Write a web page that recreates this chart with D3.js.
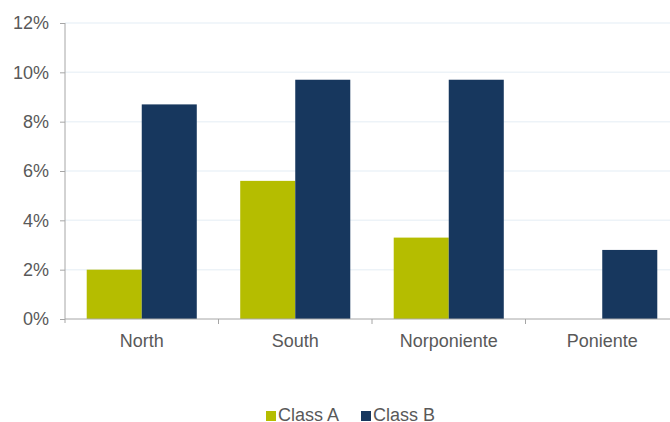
<!DOCTYPE html>
<html>
<head>
<meta charset="utf-8">
<script src="https://cdn.jsdelivr.net/npm/d3@7"></script>
<style>
  html, body { margin: 0; padding: 0; background: #fff; }
  svg { display: block; font-family: "Liberation Sans", Arial, sans-serif; }
</style>
</head>
<body>
<svg id="chart" width="670" height="422"></svg>
<script>
// Regions and the share for each class (percent)
const categories = ["North", "South", "Norponiente", "Poniente"];
const seriesNames = ["Class A", "Class B"];
const classA = [2.0, 5.6, 3.3, 0];
const classB = [8.7, 9.7, 9.7, 2.8];
const yTicks = [0, 2, 4, 6, 8, 10, 12];
const colors = ["#b5bd00", "#17375e"];

const svg = d3.select("#chart");
const textColor = "#595959";
const axisColor = "#a6a6a6";

const plotLeft = 65, plotRight = 679, plotTop = 23, plotBottom = 319;

const x = d3.scaleBand()
  .domain(categories)
  .range([plotLeft, plotRight])
  .paddingInner(0.283)
  .paddingOuter(0.1415);

const xs = d3.scaleBand()
  .domain(seriesNames)
  .range([0, x.bandwidth()]);

const y = d3.scaleLinear().domain([0, 12]).range([plotBottom, plotTop]);

const rows = categories.map((c, i) => ({ cat: c, values: [classA[i], classB[i]] }));

// Horizontal gridlines
svg.append("g")
  .selectAll("line")
  .data(yTicks.filter(t => t > 0))
  .join("line")
  .attr("x1", plotLeft).attr("x2", 670)
  .attr("y1", d => y(d)).attr("y2", d => y(d))
  .attr("stroke", "#edf3f8")
  .attr("stroke-width", 1.5);

// Bars
const groups = svg.append("g")
  .selectAll("g")
  .data(rows)
  .join("g")
  .attr("transform", d => `translate(${x(d.cat)},0)`);

groups.selectAll("rect")
  .data(d => d.values.map((v, k) => ({ key: seriesNames[k], v, k })))
  .join("rect")
  .attr("x", d => xs(d.key))
  .attr("width", xs.bandwidth())
  .attr("y", d => y(d.v))
  .attr("height", d => y(0) - y(d.v))
  .attr("fill", d => colors[d.k]);

// Y axis
const yAxis = d3.axisLeft(y)
  .tickValues(yTicks)
  .tickFormat(d => d + "%")
  .tickSize(5)
  .tickPadding(11);

const gy = svg.append("g")
  .attr("transform", `translate(${plotLeft},0)`)
  .call(yAxis);
gy.select(".domain").attr("stroke", axisColor).attr("d", `M0,${plotTop}V${plotBottom + 4}`);
gy.selectAll(".tick line").attr("stroke", axisColor);
gy.selectAll(".tick text")
  .attr("fill", textColor)
  .attr("font-size", 18)
  .attr("font-family", "'Liberation Sans', Arial, sans-serif");

// X axis baseline, boundary ticks, category labels
const gx = svg.append("g").attr("transform", `translate(0,${plotBottom})`);
gx.append("line")
  .attr("x1", plotLeft).attr("x2", 670)
  .attr("y1", 0).attr("y2", 0)
  .attr("stroke", axisColor);

const gap = (x.step() - x.bandwidth()) / 2;
gx.selectAll(".bound")
  .data(categories.slice(1))
  .join("line")
  .attr("class", "bound")
  .attr("x1", d => x(d) - gap).attr("x2", d => x(d) - gap)
  .attr("y1", 0).attr("y2", 5)
  .attr("stroke", axisColor);

gx.selectAll(".lbl")
  .data(categories)
  .join("text")
  .attr("class", "lbl")
  .attr("x", d => x(d) + x.bandwidth() / 2)
  .attr("y", 28)
  .attr("text-anchor", "middle")
  .attr("fill", textColor)
  .attr("font-size", 18)
  .text(d => d);

// Legend
const legendItems = [
  { name: seriesNames[0], color: colors[0], x: 266 },
  { name: seriesNames[1], color: colors[1], x: 361 }
];
const lg = svg.append("g");
lg.selectAll("rect")
  .data(legendItems)
  .join("rect")
  .attr("x", d => d.x).attr("y", 411)
  .attr("width", 10).attr("height", 10)
  .attr("fill", d => d.color);
lg.selectAll("text")
  .data(legendItems)
  .join("text")
  .attr("x", d => d.x + 12).attr("y", 421)
  .attr("fill", textColor)
  .attr("font-size", 18)
  .text(d => d.name);
</script>
</body>
</html>
